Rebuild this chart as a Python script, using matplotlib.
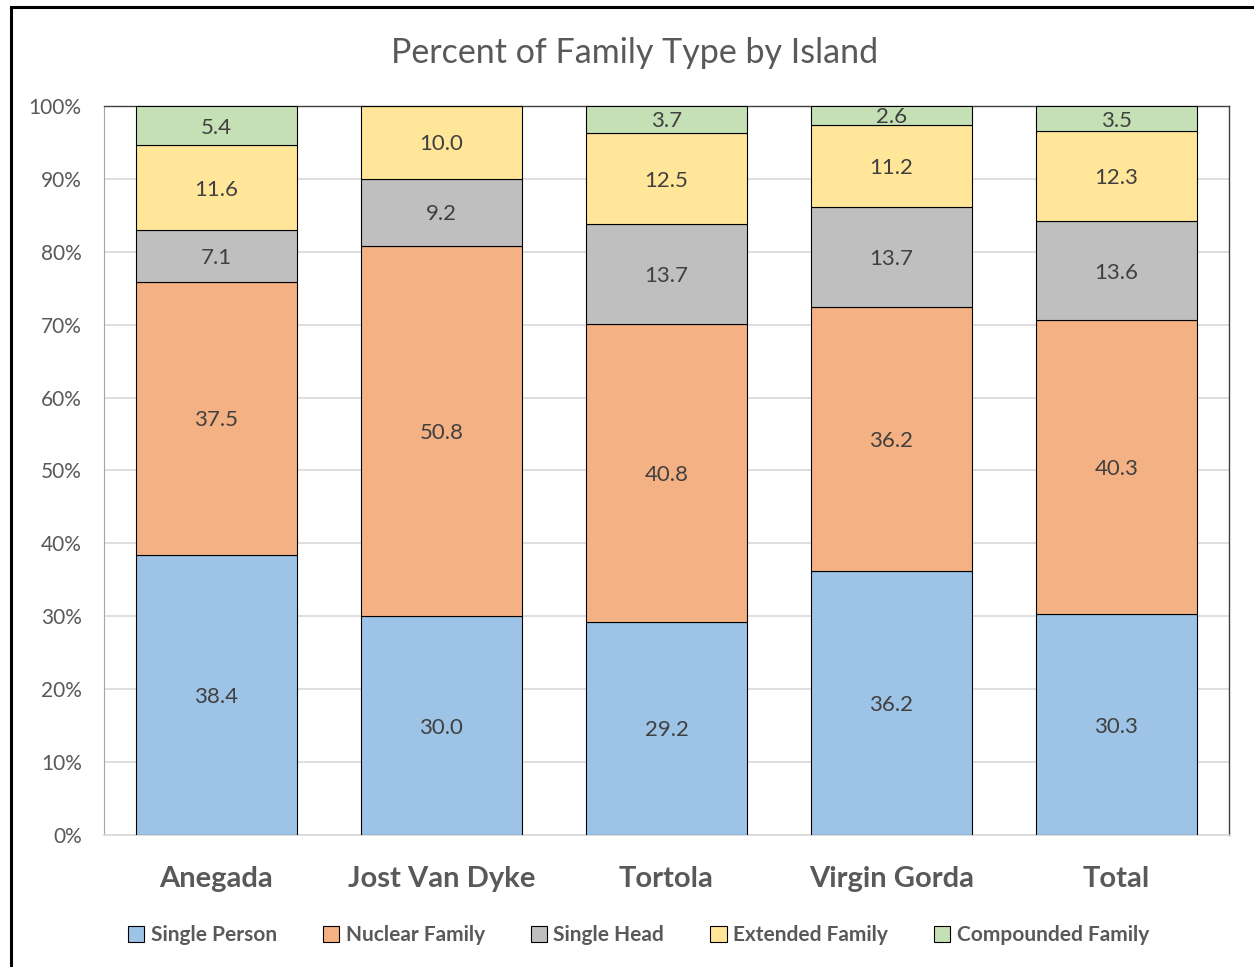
import matplotlib.pyplot as plt
import matplotlib.patches as mpatches
from matplotlib.ticker import PercentFormatter
import numpy as np

islands = ['Anegada', 'Jost Van Dyke', 'Tortola', 'Virgin Gorda', 'Total']
series_names = ['Single Person', 'Nuclear Family', 'Single Head', 'Extended Family', 'Compounded Family']
single_person = [38.4, 30.0, 29.2, 36.2, 30.3]
nuclear_family = [37.5, 50.8, 40.8, 36.2, 40.3]
single_head = [7.1, 9.2, 13.7, 13.7, 13.6]
extended_family = [11.6, 10.0, 12.5, 11.2, 12.3]
compounded_family = [5.4, 0.0, 3.7, 2.6, 3.5]

colors = ['#9DC3E6', '#F4B183', '#BFBFBF', '#FFE699', '#C5E0B4']

plt.rcParams['font.family'] = ['Lato', 'DejaVu Sans']

data = np.array([single_person, nuclear_family, single_head, extended_family, compounded_family])
shares = data / data.sum(axis=0)  # 100% stacked, like Excel

fig = plt.figure(figsize=(12.54, 9.67), dpi=100)
ax = fig.add_axes([0.0829, 0.1365, 0.8971, 0.7539])

x = np.arange(len(islands))
bottom = np.zeros(len(islands))
for name, vals, share, col in zip(series_names, data, shares, colors):
    ax.bar(x, share, 0.716, bottom=bottom, color=col, edgecolor='black',
           linewidth=0.8, label=name, zorder=3)
    for xi, v, s, b in zip(x, vals, share, bottom):
        if v > 0:
            ax.text(xi, b + s / 2, f'{v:.1f}', ha='center', va='center_baseline',
                    fontsize=16, color='#404040', zorder=4)
    bottom += share

ax.set_xlim(-0.5, len(islands) - 0.5)
ax.set_ylim(0, 1)
ax.yaxis.set_major_formatter(PercentFormatter(1.0, decimals=0))
ax.set_yticks(np.arange(0, 1.01, 0.1))
ax.grid(axis='y', color='#D9D9D9', linewidth=1.2, zorder=0)
ax.tick_params(axis='y', length=0, labelsize=15, labelcolor='#595959', pad=16)
ax.set_xticks(x)
ax.set_xticklabels(islands, fontsize=21, fontweight='bold', color='#595959')
ax.tick_params(axis='x', length=0, pad=22)

for side in ['top', 'right']:
    ax.spines[side].set_color('#404040')
    ax.spines[side].set_linewidth(1.0)
ax.spines['left'].set_color('#A6A6A6')
ax.spines['bottom'].set_color('#D9D9D9')
ax.spines['bottom'].set_linewidth(1.2)

fig.text(0.506, 0.945, 'Percent of Family Type by Island', ha='center', va='center',
         fontsize=24.5, color='#595959')

leg = fig.legend(loc='center', bbox_to_anchor=(0.509, 0.033), ncol=5, frameon=False,
                 prop={'size': 15, 'weight': 'bold'}, handlelength=0.8, handleheight=0.8,
                 handletextpad=0.3, columnspacing=2.2)
for t in leg.get_texts():
    t.set_color('#595959')

# outer chart border
fig.patches.append(mpatches.Rectangle((0.0088, -0.02), 1.1, 1.0128, transform=fig.transFigure,
                                      fill=False, edgecolor='black', linewidth=2.2))

fig.savefig('out.png', dpi=100)
